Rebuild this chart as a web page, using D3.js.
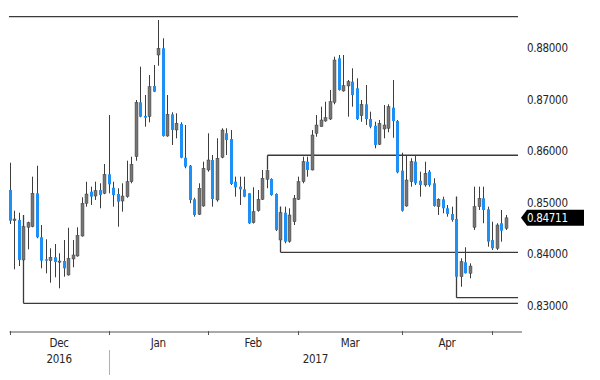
<!DOCTYPE html>
<html>
<head>
<meta charset="utf-8">
<script src="https://cdn.jsdelivr.net/npm/d3@7"></script>
<style>
  body { margin: 0; background: #fff; }
  text { font-family: "DejaVu Sans Condensed", "Liberation Sans", sans-serif; letter-spacing: -0.3px; }
</style>
</head>
<body>
<svg class="chart" width="600" height="380"></svg>
<script>
// daily candles, EUR/GBP style, Dec 2016 -> early May 2017 (weekdays only)
var dates = d3.timeDay.range(new Date(2016, 11, 1), new Date(2017, 4, 5))
              .filter(d => d.getDay() != 0 && d.getDay() != 6);

var open = [
  0.85251, 0.84655, 0.84669, 0.83893, 0.84527, 0.84539, 0.85187, 0.84333, 0.83906, 0.83879,
  0.83945, 0.83854, 0.83873, 0.83601, 0.83912, 0.83970, 0.84358, 0.84993, 0.85218, 0.85134,
  0.85251, 0.85187, 0.85555, 0.85295, 0.85173, 0.85037, 0.85121, 0.85412, 0.85897, 0.86952,
  0.86686, 0.86673, 0.87269, 0.87870, 0.88000, 0.86298, 0.86719, 0.86415, 0.86531, 0.85877,
  0.85722, 0.85070, 0.84779, 0.84940, 0.85639, 0.85833, 0.85057, 0.85885, 0.86351, 0.86240,
  0.85412, 0.85315, 0.85264, 0.85187, 0.84616, 0.84849, 0.85070, 0.85458, 0.85464, 0.85173,
  0.84281, 0.84810, 0.84255, 0.84636, 0.85070, 0.85412, 0.85800, 0.85639, 0.86351, 0.86479,
  0.86589, 0.86628, 0.86952, 0.87806, 0.87172, 0.87269, 0.87352, 0.87224, 0.86692, 0.86913,
  0.86628, 0.86498, 0.86137, 0.86434, 0.86448, 0.86848, 0.86589, 0.85625, 0.84940, 0.85412,
  0.85800, 0.85431, 0.85348, 0.85606, 0.85381, 0.84927, 0.85070, 0.84896, 0.84785, 0.84688,
  0.83568, 0.83848, 0.83634, 0.84527, 0.84927, 0.85090, 0.84876, 0.84281, 0.84120, 0.84605,
  0.84508];

var high = [
  0.85780, 0.84849, 0.84810, 0.84766, 0.84636, 0.85509, 0.85722, 0.84572, 0.84294, 0.84120,
  0.84203, 0.84023, 0.84281, 0.84519, 0.84281, 0.84527, 0.85109, 0.85412, 0.85315, 0.85412,
  0.85381, 0.85755, 0.86706, 0.85412, 0.85284, 0.85381, 0.85819, 0.85897, 0.86997, 0.87643,
  0.87094, 0.87482, 0.87676, 0.88549, 0.88194, 0.87094, 0.86758, 0.86739, 0.86564, 0.86512,
  0.85736, 0.85101, 0.85381, 0.85800, 0.86351, 0.85930, 0.86254, 0.86448, 0.86448, 0.86415,
  0.85509, 0.85509, 0.85509, 0.85190, 0.85303, 0.85251, 0.85639, 0.85645, 0.85478, 0.85187,
  0.84927, 0.84927, 0.84896, 0.85154, 0.85509, 0.85897, 0.85897, 0.86415, 0.86706, 0.86867,
  0.86964, 0.87191, 0.87837, 0.87870, 0.87870, 0.87385, 0.87612, 0.87418, 0.86997, 0.87288,
  0.86770, 0.86576, 0.86609, 0.86900, 0.86913, 0.87385, 0.86609, 0.85974, 0.85930, 0.85866,
  0.85930, 0.85606, 0.85800, 0.85639, 0.85478, 0.85090, 0.85121, 0.84960, 0.84927, 0.85121,
  0.83925, 0.84139, 0.83828, 0.85315, 0.85315, 0.85315, 0.84927, 0.84636, 0.84605, 0.84863,
  0.84766];

var low = [
  0.84591, 0.83712, 0.83776, 0.83815, 0.84100, 0.84527, 0.84314, 0.83731, 0.83634, 0.83452,
  0.83557, 0.83343, 0.83568, 0.83590, 0.83751, 0.83957, 0.84345, 0.84927, 0.84960, 0.85057,
  0.84896, 0.85170, 0.85187, 0.84927, 0.84539, 0.84830, 0.85101, 0.85381, 0.85819, 0.86661,
  0.86479, 0.86564, 0.87150, 0.87662, 0.86285, 0.86285, 0.86124, 0.86254, 0.85866, 0.85672,
  0.84993, 0.84733, 0.84766, 0.84927, 0.85606, 0.84927, 0.85024, 0.85866, 0.85930, 0.85348,
  0.85121, 0.84960, 0.85110, 0.84591, 0.84600, 0.84830, 0.85057, 0.85284, 0.85140, 0.84455,
  0.84087, 0.84216, 0.84228, 0.84572, 0.85057, 0.85381, 0.85509, 0.85630, 0.86285, 0.86479,
  0.86576, 0.86609, 0.86913, 0.87180, 0.87158, 0.86673, 0.86867, 0.86609, 0.86576, 0.86512,
  0.86448, 0.86060, 0.86124, 0.86254, 0.86370, 0.86265, 0.85575, 0.84830, 0.84927, 0.85315,
  0.85348, 0.85121, 0.85315, 0.85315, 0.84927, 0.84766, 0.84799, 0.84733, 0.84636, 0.83324,
  0.83374, 0.83630, 0.83537, 0.84475, 0.84863, 0.84605, 0.84151, 0.84087, 0.84087, 0.84248,
  0.84475];

var close = [
  0.84655, 0.84688, 0.83893, 0.84539, 0.84616, 0.85187, 0.84333, 0.83879, 0.83879, 0.83945,
  0.83854, 0.83873, 0.83731, 0.83925, 0.83990, 0.84372, 0.84993, 0.85173, 0.85121, 0.85237,
  0.85154, 0.85555, 0.85361, 0.85154, 0.85024, 0.85134, 0.85412, 0.85749, 0.86952, 0.86673,
  0.86653, 0.87255, 0.87158, 0.88000, 0.86300, 0.86719, 0.86415, 0.86545, 0.85877, 0.85703,
  0.85057, 0.84766, 0.85284, 0.85672, 0.85833, 0.85076, 0.85866, 0.86415, 0.86221, 0.85367,
  0.85303, 0.85264, 0.85121, 0.84605, 0.84830, 0.85070, 0.85478, 0.85625, 0.85154, 0.84475,
  0.84810, 0.84248, 0.84766, 0.85090, 0.85412, 0.85800, 0.85639, 0.86318, 0.86512, 0.86609,
  0.86653, 0.86964, 0.87773, 0.87191, 0.87274, 0.87352, 0.87094, 0.86628, 0.86913, 0.86628,
  0.86479, 0.86124, 0.86545, 0.86512, 0.86867, 0.86589, 0.85594, 0.84849, 0.85445, 0.85800,
  0.85381, 0.85348, 0.85575, 0.85348, 0.84940, 0.85070, 0.84896, 0.84785, 0.84669, 0.83568,
  0.83860, 0.83636, 0.83776, 0.84927, 0.85090, 0.84863, 0.84248, 0.84120, 0.84572, 0.84461,
  0.84711];

// drawn support / resistance levels: value + the candle index where it's anchored
var levelValue = [0.88613, 0.85925, 0.84042, 0.83161, 0.83052];
var levelStart = [0, 57, 60, 99, 3];
var levelHook  = [false, true, true, true, true];

var yTicks = [0.83, 0.84, 0.85, 0.86, 0.87, 0.88];
var yearLabels = ["2016", "2017"];

var svg = d3.select(".chart");
var plotRight = 518, axisRight = 522, axisY = 332;
var fs = 11.5;

var x = d3.scaleLinear().domain([0, dates.length - 1]).range([9.5, 505.7]);
var y = d3.scaleLinear().domain([0.83, 0.88]).range([306, 48.3]);
var fmt = d3.format(".5f");
var px = i => Math.round(x(i)) + 0.5;

var candles = dates.map((d, i) => ({ date: d, i: i, o: open[i], h: high[i], l: low[i], c: close[i] }));

// level lines (behind candles)
var lv = svg.append("g").attr("class", "levels");
levelValue.forEach(function (v, k) {
  var x0 = px(levelStart[k]);
  lv.append("line")
    .attr("x1", k == 0 ? 9 : x0).attr("x2", plotRight)
    .attr("y1", y(v)).attr("y2", y(v))
    .attr("stroke", "#3a3a3a").attr("stroke-width", 1.3);
  if (levelHook[k]) {
    lv.append("line")
      .attr("x1", x0).attr("x2", x0)
      .attr("y1", y(v)).attr("y2", y(high[levelStart[k]]))
      .attr("stroke", "#3a3a3a").attr("stroke-width", 1.3);
  }
});

// candles
var g = svg.append("g").attr("class", "candles");
g.selectAll("line.wick")
  .data(candles).enter().append("line")
  .attr("class", "wick")
  .attr("x1", d => px(d.i)).attr("x2", d => px(d.i))
  .attr("y1", d => y(d.h)).attr("y2", d => y(d.l))
  .attr("stroke", "#3d3d3d").attr("stroke-width", 1);

g.selectAll("rect.body")
  .data(candles).enter().append("rect")
  .attr("class", "body")
  .attr("x", d => px(d.i) - 1.5)
  .attr("width", 3)
  .attr("y", d => y(Math.max(d.o, d.c)))
  .attr("height", d => Math.max(1.2, Math.abs(y(d.o) - y(d.c))))
  .attr("fill", d => d.c >= d.o ? "#767676" : "#1e8ff5")
  .attr("stroke", d => d.c >= d.o ? "#333" : "none")
  .attr("stroke-width", 0.4);

// price scale on the right
svg.append("g").selectAll("text")
  .data(yTicks).enter().append("text")
  .attr("x", 527).attr("y", d => y(d))
  .attr("dy", "0.35em")
  .attr("font-size", fs)
  .attr("fill", "#262626")
  .text(d => fmt(d));

// last price tag
var last = close[close.length - 1], yl = y(last);
svg.append("path")
  .attr("d", `M521,${yl} L527,${yl - 8} L584,${yl - 8} L584,${yl + 8} L527,${yl + 8} Z`)
  .attr("fill", "#000");
svg.append("text")
  .attr("x", 527).attr("y", yl).attr("dy", "0.35em")
  .attr("font-size", fs).attr("fill", "#fff")
  .text(fmt(last));

// time axis
var monthStarts = [];
candles.forEach(function (d, i) {
  if (i == 0 || d.date.getMonth() != candles[i - 1].date.getMonth()) monthStarts.push(i);
});
var ax = svg.append("g").attr("class", "xaxis");
ax.append("line")
  .attr("x1", x(0)).attr("x2", axisRight)
  .attr("y1", axisY).attr("y2", axisY)
  .attr("stroke", "#555").attr("stroke-width", 1);
ax.selectAll("line.tick")
  .data(monthStarts).enter().append("line")
  .attr("class", "tick")
  .attr("x1", d => px(d)).attr("x2", d => px(d))
  .attr("y1", axisY - 1).attr("y2", axisY + 3)
  .attr("stroke", "#555");

var monthFmt = d3.timeFormat("%b");
ax.selectAll("text.month")
  .data(monthStarts.slice(0, -1)).enter().append("text")
  .attr("class", "month")
  .attr("x", (d, k) => (x(d) + x(monthStarts[k + 1])) / 2)
  .attr("y", 343).attr("dy", "0.35em")
  .attr("text-anchor", "middle")
  .attr("font-size", fs).attr("fill", "#262626")
  .text(d => monthFmt(dates[d]));

// years: 2016 for December, 2017 for the rest
var janIdx = monthStarts[1];
var yearMid = [(x(0) + x(janIdx)) / 2, (x(janIdx) + axisRight) / 2];
ax.selectAll("text.year")
  .data(yearLabels).enter().append("text")
  .attr("class", "year")
  .attr("x", (d, k) => yearMid[k])
  .attr("y", 359).attr("dy", "0.35em")
  .attr("text-anchor", "middle")
  .attr("font-size", fs).attr("fill", "#262626")
  .text(d => d);
ax.append("line")
  .attr("x1", px(janIdx)).attr("x2", px(janIdx))
  .attr("y1", 350).attr("y2", 375)
  .attr("stroke", "#b0b0b0");
</script>
</body>
</html>
